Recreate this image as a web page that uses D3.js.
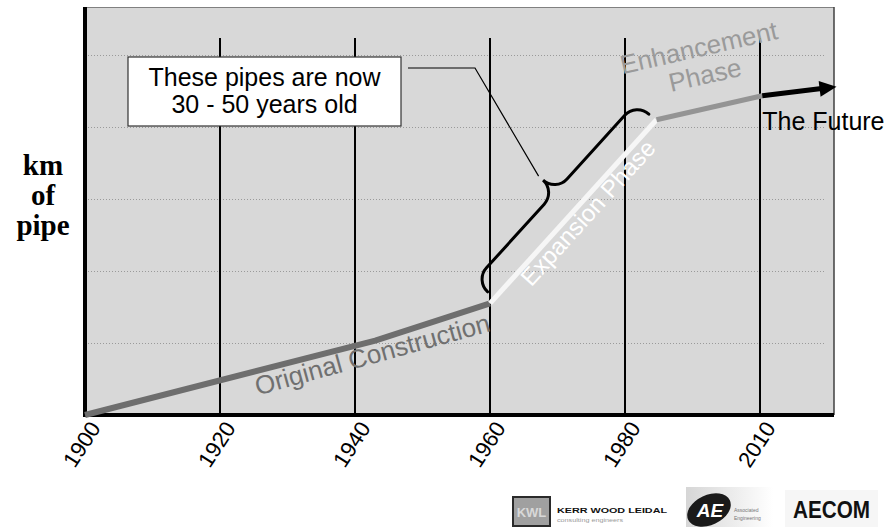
<!DOCTYPE html>
<html>
<head>
<meta charset="utf-8">
<script src="https://cdn.jsdelivr.net/npm/d3@7"></script>
<style>
  body { margin: 0; background: #fff; }
  svg { display: block; }
</style>
</head>
<body>
<svg id="chart" width="891" height="527"></svg>
<script>
// ---- data -------------------------------------------------------------
// Labelled years on the time axis (drawn in evenly spaced slots)
const yearTicks = [1900, 1920, 1940, 1960, 1980, 2010];
// Horizontal guide values on the (unlabelled) km axis
const gridKm = [6, 12, 18, 24, 30];
// Growth of the pipe network, one array pair per phase (km in relative units)
const originalYears = [1900, 1943, 1960];
const originalKm = [0, 6.2, 9.3];
const expansionYears = [1960, 1987];
const expansionKm = [9.3, 24.6];
const enhancementYears = [1987, 2010.5];
const enhancementKm = [24.6, 26.6];
const futureYears = [2010.5, 2027];
const futureKm = [26.6, 27.35];

// ---- layout -----------------------------------------------------------
const svg = d3.select("#chart");
const plot = { left: 85, right: 834, top: 7, bottom: 415 };
const SANS = "'Liberation Sans', Arial, sans-serif";

// each labelled year gets an equal slot; years in between are interpolated
const slot = d3.scalePoint().domain(yearTicks).range([plot.left, 760]);
const x = d3.scaleLinear().domain(yearTicks).range(yearTicks.map(d => slot(d)));
const y = d3.scaleLinear().domain([0, 34]).range([plot.bottom, plot.top]);

const pts = (ys, ks) => ys.map((yr, i) => [x(yr), y(ks[i])]);

// plot background and frame
svg.append("rect")
  .attr("x", plot.left).attr("y", plot.top)
  .attr("width", plot.right - plot.left).attr("height", plot.bottom - plot.top)
  .attr("fill", "#d8d8d8");
svg.append("line")
  .attr("x1", plot.left).attr("x2", plot.right)
  .attr("y1", plot.top + 0.5).attr("y2", plot.top + 0.5)
  .attr("stroke", "#808080").attr("stroke-width", 1);
svg.append("line")
  .attr("x1", plot.right).attr("x2", plot.right)
  .attr("y1", plot.top).attr("y2", plot.bottom)
  .attr("stroke", "#404040").attr("stroke-width", 1.5);

// dotted horizontal guides
svg.append("g").selectAll("line").data(gridKm).join("line")
  .attr("x1", plot.left).attr("x2", plot.right - 9)
  .attr("y1", d => Math.round(y(d)) + 0.5).attr("y2", d => Math.round(y(d)) + 0.5)
  .attr("stroke", "#9a9a9a").attr("stroke-width", 1)
  .attr("stroke-dasharray", "1,2");

// vertical year markers
svg.append("g").selectAll("line").data(yearTicks.slice(1)).join("line")
  .attr("x1", d => x(d)).attr("x2", d => x(d))
  .attr("y1", plot.top + 31).attr("y2", plot.bottom)
  .attr("stroke", "#000").attr("stroke-width", 2);

// axes: heavy left and bottom rules
svg.append("line")
  .attr("x1", plot.left).attr("x2", plot.left)
  .attr("y1", plot.top).attr("y2", plot.bottom + 2)
  .attr("stroke", "#000").attr("stroke-width", 4);
svg.append("line")
  .attr("x1", plot.left - 2).attr("x2", plot.right)
  .attr("y1", plot.bottom).attr("y2", plot.bottom)
  .attr("stroke", "#000").attr("stroke-width", 4);

// year labels, slanted
const xAxis = svg.append("g")
  .attr("transform", `translate(0,${plot.bottom})`)
  .call(d3.axisBottom(x).tickValues(yearTicks).tickSize(0).tickFormat(d3.format("d")));
xAxis.select(".domain").remove();
xAxis.selectAll("text")
  .attr("font-family", SANS).attr("font-size", 22).attr("fill", "#000")
  .attr("text-anchor", "end")
  .attr("x", 0).attr("y", 0).attr("dy", 0)
  .attr("transform", "translate(16,13) rotate(-57)");

// y-axis title
const yTitle = svg.append("text")
  .attr("font-family", "'Liberation Serif', 'Times New Roman', serif")
  .attr("font-weight", "bold").attr("font-size", 29)
  .attr("text-anchor", "middle").attr("fill", "#000");
["km", "of", "pipe"].forEach((t, i) => {
  yTitle.append("tspan").attr("x", 43).attr("y", 175 + i * 30).text(t);
});

// ---- phase lines ------------------------------------------------------
const line = d3.line();
svg.append("path").attr("d", line(pts(originalYears, originalKm)))
  .attr("fill", "none").attr("stroke", "#6e6e6e").attr("stroke-width", 6);
svg.append("path").attr("d", line(pts(expansionYears, expansionKm)))
  .attr("fill", "none").attr("stroke", "#f6f6f6").attr("stroke-width", 5);
svg.append("path").attr("d", line(pts(enhancementYears, enhancementKm)))
  .attr("fill", "none").attr("stroke", "#949494").attr("stroke-width", 5);

// future trend: heavy arrow
const fut = pts(futureYears, futureKm);
{
  const [a, b] = [fut[0], fut[fut.length - 1]];
  const dx = b[0] - a[0], dy = b[1] - a[1], L = Math.hypot(dx, dy);
  const ux = dx / L, uy = dy / L;
  const headLen = 17, headHalf = 8;
  const base = [b[0] - ux * headLen, b[1] - uy * headLen];
  svg.append("path").attr("d", line([a, [base[0] + ux * 2, base[1] + uy * 2]]))
    .attr("fill", "none").attr("stroke", "#000").attr("stroke-width", 5);
  svg.append("path")
    .attr("d", line([b, [base[0] - uy * headHalf, base[1] + ux * headHalf],
                        [base[0] + uy * headHalf, base[1] - ux * headHalf]]) + "Z")
    .attr("fill", "#000");
}

// ---- phase labels -----------------------------------------------------
// text set along the chord of a phase line: t = position along the chord,
// along = extra shift in the text direction, each line gets its own baseline offset
function labelOn(points, t, along, lines, opts) {
  const a = points[0], b = points[points.length - 1];
  const ang = Math.atan2(b[1] - a[1], b[0] - a[0]);
  const px = a[0] + (b[0] - a[0]) * t + Math.cos(ang) * along;
  const py = a[1] + (b[1] - a[1]) * t + Math.sin(ang) * along;
  const g = svg.append("text")
    .attr("transform", `translate(${px},${py}) rotate(${ang * 180 / Math.PI})`)
    .attr("font-family", SANS).attr("font-size", opts.size)
    .attr("fill", opts.color).attr("text-anchor", "middle");
  lines.forEach(([txt, dy]) => g.append("tspan").attr("x", 0).attr("y", dy).text(txt));
}
labelOn(pts(originalYears, originalKm), 0.5, 83, [["Original Construction", 27]],
  { size: 26, color: "#707070" });
labelOn(pts(expansionYears, expansionKm), 0.5, 9, [["Expansion Phase", 20]],
  { size: 24, color: "#ffffff" });
labelOn(pts(enhancementYears, enhancementKm), 0.5, 3, [["Enhancement", -52], ["Phase", -24]],
  { size: 26, color: "#9a9a9a" });

svg.append("text")
  .attr("x", fut[0][0]).attr("y", fut[0][1] + 34)
  .attr("font-family", SANS).attr("font-size", 25).attr("fill", "#000")
  .text("The Future");

// ---- brace over the expansion years + callout -------------------------
const exp = pts(expansionYears, expansionKm);
function bracePath(p1, p2, depth) {
  const dx = p2[0] - p1[0], dy = p2[1] - p1[1], len = Math.hypot(dx, dy);
  const u = [dx / len, dy / len], n = [u[1], -u[0]];
  const P = (a, b) => [p1[0] + a * u[0] + b * n[0], p1[1] + a * u[1] + b * n[1]];
  const r = depth / 2, h = len / 2, k = 0.552 * r;
  const f = p => p.join(",");
  return "M" + f(P(0, 0)) +
    "C" + f(P(0, k)) + " " + f(P(r - k, r)) + " " + f(P(r, r)) +
    "L" + f(P(h - r, r)) +
    "C" + f(P(h - r + k, r)) + " " + f(P(h, 2 * r - k)) + " " + f(P(h, 2 * r)) +
    "C" + f(P(h, 2 * r - k)) + " " + f(P(h + r - k, r)) + " " + f(P(h + r, r)) +
    "L" + f(P(len - r, r)) +
    "C" + f(P(len - r + k, r)) + " " + f(P(len, k)) + " " + f(P(len, 0));
}
const braceTip = (() => {
  const [A, B] = exp;
  const dx = B[0] - A[0], dy = B[1] - A[1], L = Math.hypot(dx, dy);
  const u = [dx / L, dy / L], n = [u[1], -u[0]];
  const off = 9.5, depth = 34;
  const p1 = [A[0] + 7 * u[0] + off * n[0], A[1] + 7 * u[1] + off * n[1]];
  const p2 = [B[0] - 1 * u[0] + off * n[0], B[1] - 1 * u[1] + off * n[1]];
  svg.append("path").attr("d", bracePath(p1, p2, depth))
    .attr("fill", "none").attr("stroke", "#000").attr("stroke-width", 3)
    .attr("stroke-linecap", "round");
  const m = [(p1[0] + p2[0]) / 2, (p1[1] + p2[1]) / 2];
  return [m[0] + (depth + 6) * n[0], m[1] + (depth + 6) * n[1]];
})();

const box = { x: 128, y: 57, w: 273, h: 69 };
svg.append("path")
  .attr("d", line([[box.x + box.w + 7, box.y + 11], [475, box.y + 11], braceTip]))
  .attr("fill", "none").attr("stroke", "#000").attr("stroke-width", 1.2);
svg.append("rect")
  .attr("x", box.x).attr("y", box.y).attr("width", box.w).attr("height", box.h)
  .attr("fill", "#fff").attr("stroke", "#333").attr("stroke-width", 1.2);
const noteLines = ["These pipes are now", "30 - 50 years old"];
svg.append("g").selectAll("text").data(noteLines).join("text")
  .attr("x", box.x + box.w / 2).attr("y", (d, i) => box.y + 29 + i * 27)
  .attr("font-family", SANS).attr("font-size", 25).attr("fill", "#000")
  .attr("text-anchor", "middle")
  .text(d => d);

// ---- partner marks along the footer -----------------------------------
const logos = svg.append("g");
// consulting engineers mark
const g1 = logos.append("g");
g1.append("rect").attr("x", 513).attr("y", 497).attr("width", 37).attr("height", 29)
  .attr("fill", "#a0a0a0").attr("stroke", "#2a2a2a").attr("stroke-width", 2);
g1.append("text").attr("x", 531.5).attr("y", 517).attr("text-anchor", "middle")
  .attr("font-family", SANS).attr("font-weight", "bold").attr("font-size", 13)
  .attr("fill", "#d8d8d8").text("KWL");
g1.append("text").attr("x", 557).attr("y", 513).attr("font-family", SANS)
  .attr("font-weight", "bold").attr("font-size", 8).attr("fill", "#111")
  .attr("textLength", 110).attr("lengthAdjust", "spacingAndGlyphs").text("KERR WOOD LEIDAL");
g1.append("text").attr("x", 557).attr("y", 522).attr("font-family", SANS)
  .attr("font-size", 6).attr("fill", "#999")
  .attr("textLength", 66).attr("lengthAdjust", "spacingAndGlyphs").text("consulting engineers");

// engineering mark with oval badge
const grad = svg.append("defs").append("linearGradient").attr("id", "fade");
grad.append("stop").attr("offset", "0%").attr("stop-color", "#d6d6d6");
grad.append("stop").attr("offset", "100%").attr("stop-color", "#ffffff");
const g2 = logos.append("g");
g2.append("rect").attr("x", 686).attr("y", 487).attr("width", 87).attr("height", 40)
  .attr("fill", "url(#fade)");
g2.append("ellipse").attr("cx", 709).attr("cy", 510).attr("rx", 23).attr("ry", 15)
  .attr("transform", "rotate(-25,709,510)").attr("fill", "#1a1a1a");
g2.append("text").attr("x", 710).attr("y", 517).attr("text-anchor", "middle")
  .attr("font-family", SANS).attr("font-style", "italic").attr("font-weight", "bold")
  .attr("font-size", 19).attr("fill", "#fff").text("AE");
g2.append("text").attr("x", 734).attr("y", 512).attr("font-family", SANS)
  .attr("font-size", 5).attr("fill", "#777").text("Associated");
g2.append("text").attr("x", 734).attr("y", 520).attr("font-family", SANS)
  .attr("font-size", 5).attr("fill", "#777").text("Engineering");

// AECOM wordmark
const g3 = logos.append("g");
g3.append("rect").attr("x", 785).attr("y", 490).attr("width", 93).attr("height", 37)
  .attr("fill", "#f6f6f6");
g3.append("text").attr("x", 793).attr("y", 518).attr("font-family", SANS)
  .attr("font-weight", "bold").attr("font-size", 24).attr("fill", "#111")
  .attr("textLength", 77).attr("lengthAdjust", "spacingAndGlyphs").text("AECOM");
</script>
</body>
</html>
